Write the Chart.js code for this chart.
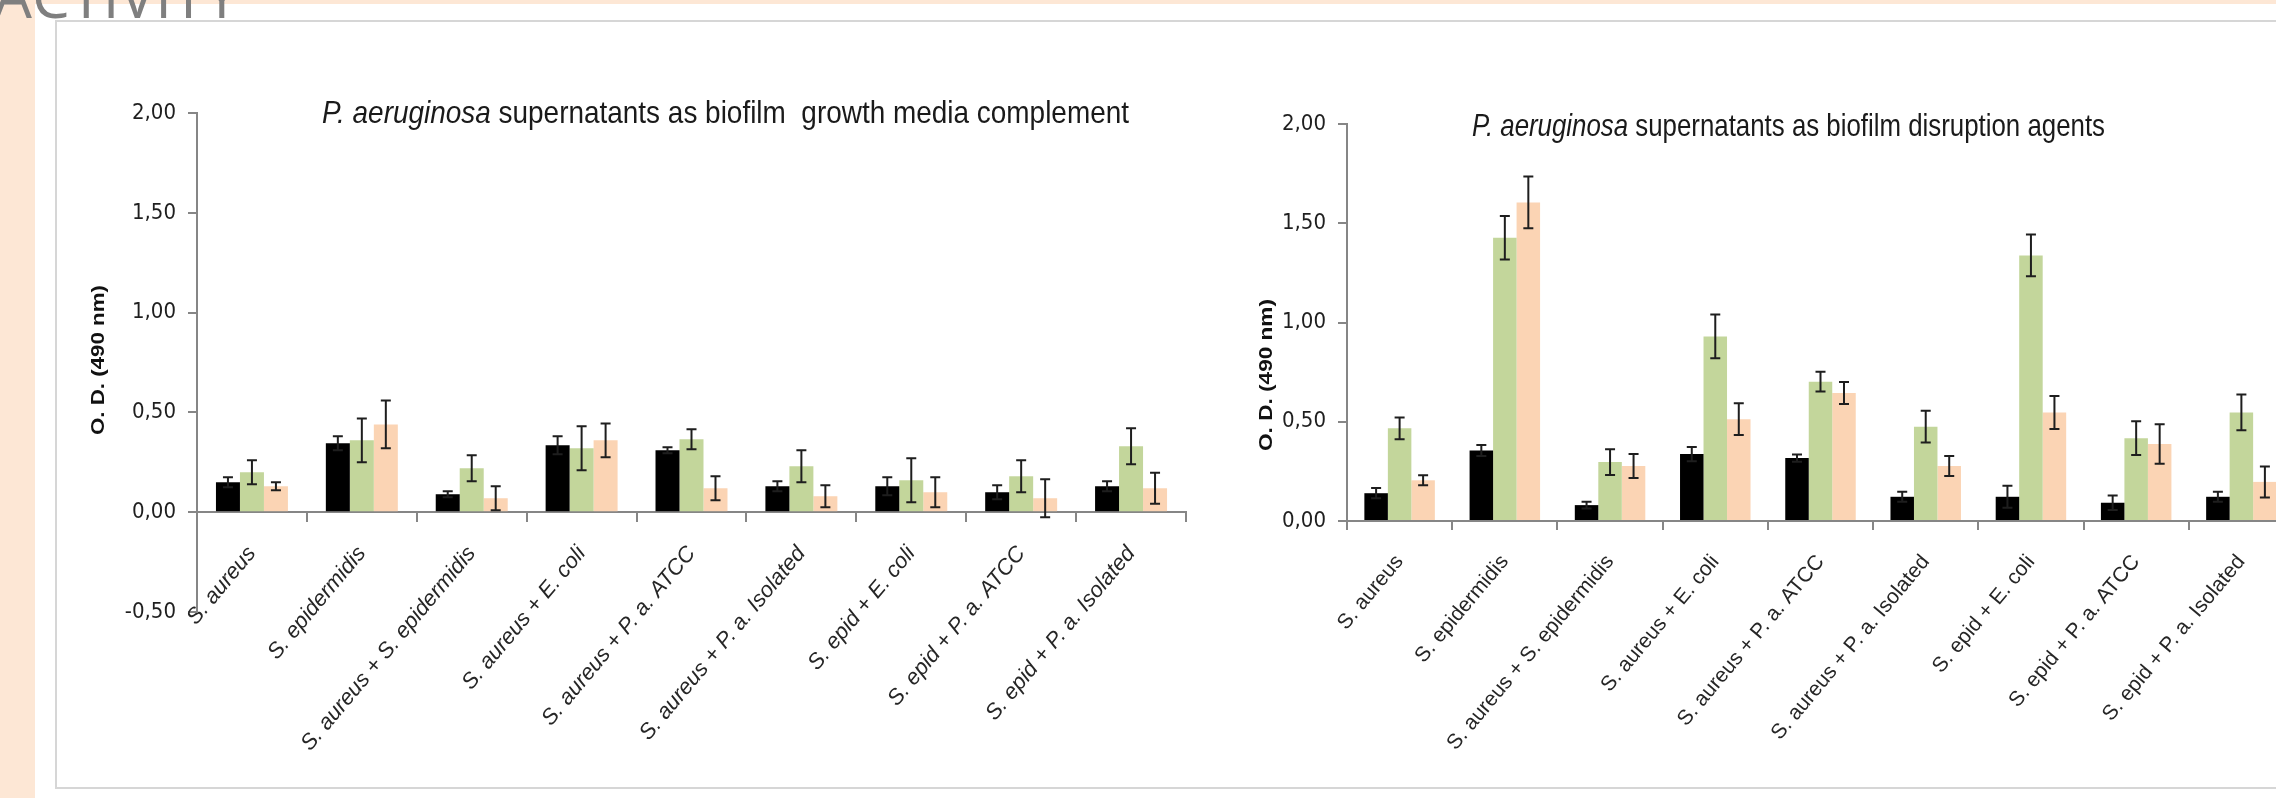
<!DOCTYPE html>
<html>
<head>
<meta charset="utf-8">
<script src="https://cdn.jsdelivr.net/npm/chart.js@4.4.1/dist/chart.umd.min.js"></script>
<style>
html,body{margin:0;padding:0;width:2276px;height:798px;overflow:hidden;background:#ffffff;position:relative;}
#leftStrip{position:absolute;left:0;top:0;width:35px;height:798px;background:#fde7d5;}
#topStrip{position:absolute;left:0;top:0;width:2276px;height:4px;background:#fde7d5;}
#frame{position:absolute;left:55px;top:20px;width:2320px;height:769px;border:2px solid #d6d6d6;box-sizing:border-box;}
#heading{position:absolute;left:-6px;top:-35px;font-family:'Open Sans',sans-serif;font-size:60px;line-height:60px;color:#7f7f7f;white-space:nowrap;}
#c1{position:absolute;left:60px;top:40px;}
#c2{position:absolute;left:1220px;top:40px;}
</style>
</head>
<body>
<div id="leftStrip"></div>
<div id="topStrip"></div>
<div id="frame"></div>
<div id="heading">ACTIVITY</div>
<canvas id="c1" width="1140" height="750"></canvas>
<canvas id="c2" width="1090" height="750"></canvas>
<script>
// ---------- data ----------
const categories = [
  'S. aureus',
  'S. epidermidis',
  'S. aureus + S. epidermidis',
  'S. aureus + E. coli',
  'S. aureus + P. a. ATCC',
  'S. aureus + P. a. Isolated',
  'S. epid + E. coli',
  'S. epid + P. a. ATCC',
  'S. epid + P. a. Isolated'
];
const seriesNames = ['Series 1', 'Series 2', 'Series 3'];

// Left chart: supernatants as biofilm growth media complement
const growthBlack    = [0.15, 0.345, 0.09, 0.335, 0.31, 0.13, 0.13, 0.10, 0.13];
const growthBlackErr = [0.025, 0.035, 0.015, 0.045, 0.015, 0.025, 0.045, 0.035, 0.025];
const growthGreen    = [0.20, 0.36, 0.22, 0.32, 0.365, 0.23, 0.16, 0.18, 0.33];
const growthGreenErr = [0.06, 0.11, 0.065, 0.11, 0.05, 0.08, 0.11, 0.08, 0.09];
const growthPeach    = [0.13, 0.44, 0.07, 0.36, 0.12, 0.08, 0.10, 0.07, 0.12];
const growthPeachErr = [0.02, 0.12, 0.06, 0.085, 0.06, 0.055, 0.075, 0.095, 0.078];

// Right chart: supernatants as biofilm disruption agents
const disruptBlack    = [0.14, 0.355, 0.08, 0.337, 0.317, 0.122, 0.122, 0.092, 0.122];
const disruptBlackErr = [0.026, 0.028, 0.017, 0.036, 0.018, 0.025, 0.055, 0.036, 0.025];
const disruptGreen    = [0.467, 1.427, 0.297, 0.93, 0.702, 0.475, 1.338, 0.417, 0.547];
const disruptGreenErr = [0.055, 0.11, 0.065, 0.11, 0.05, 0.08, 0.105, 0.085, 0.09];
const disruptPeach    = [0.205, 1.605, 0.277, 0.513, 0.645, 0.277, 0.547, 0.388, 0.197];
const disruptPeachErr = [0.025, 0.13, 0.06, 0.08, 0.055, 0.05, 0.083, 0.10, 0.078];

const leftYTicks  = [-0.5, 0, 0.5, 1, 1.5, 2];
const rightYTicks = [0, 0.5, 1, 1.5, 2];
const leftTitle  = ['P. aeruginosa', ' supernatants as biofilm  growth media complement'];
const rightTitle = ['P. aeruginosa', ' supernatants as biofilm disruption agents'];
const yAxisTitle = 'O. D. (490 nm)';

// ---------- styling ----------
const barColors = ['#000000', '#c3d69b', '#fbd4b4'];
const axisGrey = '#868686';
const narrow = "'Liberation Sans Narrow','DejaVu Sans Condensed','Liberation Sans',sans-serif";
const regular = "'Liberation Sans','DejaVu Sans',sans-serif";

const fmt = v => Number(v).toFixed(2).replace('.', ',');

const decorPlugin = {
  id: 'decor',
  afterDatasetsDraw(chart) {
    const ctx = chart.ctx;
    const ys = chart.scales.y;
    chart.data.datasets.forEach((ds, i) => {
      const meta = chart.getDatasetMeta(i);
      meta.data.forEach((bar, j) => {
        const v = ds.data[j], e = ds.errors[j];
        const x = bar.x;
        const y1 = ys.getPixelForValue(v + e);
        const y2 = ys.getPixelForValue(v - e);
        ctx.save();
        ctx.strokeStyle = '#1e1e1e';
        ctx.lineWidth = 2;
        ctx.beginPath();
        ctx.moveTo(x, y1); ctx.lineTo(x, y2);
        ctx.moveTo(x - 5, y1); ctx.lineTo(x + 5, y1);
        ctx.moveTo(x - 5, y2); ctx.lineTo(x + 5, y2);
        ctx.stroke();
        ctx.restore();
      });
    });
  },
  afterDraw(chart, args, o) {
    const ctx = chart.ctx;
    // chart title, italic genus name + plain text, condensed to the target width
    ctx.save();
    ctx.fillStyle = '#1a1a1a';
    ctx.textBaseline = 'middle';
    ctx.textAlign = 'left';
    const fItal = 'italic ' + o.titleSize + 'px ' + regular;
    const fNorm = o.titleSize + 'px ' + regular;
    ctx.font = fItal; const w1 = ctx.measureText(o.title[0]).width;
    ctx.font = fNorm; const w2 = ctx.measureText(o.title[1]).width;
    const k = o.titleWidth / (w1 + w2);
    ctx.translate(o.titleX, o.titleY);
    ctx.scale(k, 1);
    ctx.font = fItal; ctx.fillText(o.title[0], 0, 0);
    ctx.font = fNorm; ctx.fillText(o.title[1], w1, 0);
    ctx.restore();

    // vertical axis title
    ctx.save();
    ctx.translate(o.yTitleX, o.yTitleY);
    ctx.rotate(-Math.PI / 2);
    ctx.fillStyle = '#111111';
    ctx.textAlign = 'center';
    ctx.textBaseline = 'middle';
    ctx.font = 'bold 19px ' + regular;
    const wy = ctx.measureText(yAxisTitle).width;
    ctx.scale(o.yTitleLen / wy, 1);
    ctx.fillText(yAxisTitle, 0, 0);
    ctx.restore();
  }
};

function makeChart(id, cfg) {
  const ds = [
    { label: seriesNames[0], data: cfg.black, errors: cfg.blackErr, backgroundColor: barColors[0] },
    { label: seriesNames[1], data: cfg.green, errors: cfg.greenErr, backgroundColor: barColors[1] },
    { label: seriesNames[2], data: cfg.peach, errors: cfg.peachErr, backgroundColor: barColors[2] }
  ].map(d => Object.assign(d, { borderWidth: 0, categoryPercentage: cfg.catPct, barPercentage: 1.0 }));

  return new Chart(document.getElementById(id), {
    type: 'bar',
    data: { labels: categories, datasets: ds },
    plugins: [decorPlugin],
    options: {
      responsive: false,
      maintainAspectRatio: false,
      animation: false,
      devicePixelRatio: 1,
      layout: { padding: cfg.padding },
      plugins: {
        legend: { display: false },
        tooltip: { enabled: false },
        title: { display: false },
        decor: cfg.decor
      },
      scales: {
        x: {
          type: 'category',
          position: cfg.xPos,
          offset: true,
          grid: { display: true, drawOnChartArea: false, drawTicks: true, tickLength: 9, color: axisGrey, lineWidth: 2, offset: true },
          border: { display: true, color: axisGrey, width: 2 },
          ticks: {
            autoSkip: false, minRotation: 50, maxRotation: 50, padding: 20,
            color: '#262626',
            font: { family: regular, size: cfg.labelSize, style: cfg.labelStyle }
          },
          afterFit: s => { if (cfg.xHeight) s.height = cfg.xHeight; }
        },
        y: {
          min: cfg.yTicks[0],
          max: cfg.yTicks[cfg.yTicks.length - 1],
          afterBuildTicks: s => { s.ticks = cfg.yTicks.map(v => ({ value: v })); },
          grid: { display: true, drawOnChartArea: false, drawTicks: true, tickLength: 9, color: axisGrey, lineWidth: 2 },
          border: { display: true, color: axisGrey, width: 2 },
          ticks: { color: '#1f1f1f', padding: 12, font: { family: narrow, size: 22 }, callback: v => fmt(v) },
          afterFit: s => { s.width = cfg.yWidth; }
        }
      }
    }
  });
}

makeChart('c1', {
  black: growthBlack, blackErr: growthBlackErr,
  green: growthGreen, greenErr: growthGreenErr,
  peach: growthPeach, peachErr: growthPeachErr,
  yTicks: leftYTicks,
  catPct: 0.655,
  xPos: { y: 0 },
  labelStyle: 'italic',
  labelSize: 22,
  xHeight: null,
  yWidth: 137,
  padding: { top: 73, bottom: 178, left: 0, right: 14 },
  decor: { title: leftTitle, titleX: 262, titleY: 74, titleSize: 32, titleWidth: 807, yTitleX: 39, yTitleY: 320, yTitleLen: 150 }
});

makeChart('c2', {
  black: disruptBlack, blackErr: disruptBlackErr,
  green: disruptGreen, greenErr: disruptGreenErr,
  peach: disruptPeach, peachErr: disruptPeachErr,
  yTicks: rightYTicks,
  catPct: 0.67,
  xPos: 'bottom',
  labelStyle: 'normal',
  labelSize: 21,
  xHeight: 269,
  yWidth: 127,
  padding: { top: 84, bottom: 0, left: 0, right: 16 },
  decor: { title: rightTitle, titleX: 252, titleY: 87, titleSize: 32, titleWidth: 633, yTitleX: 47, yTitleY: 335, yTitleLen: 152 }
});
</script>
</body>
</html>
